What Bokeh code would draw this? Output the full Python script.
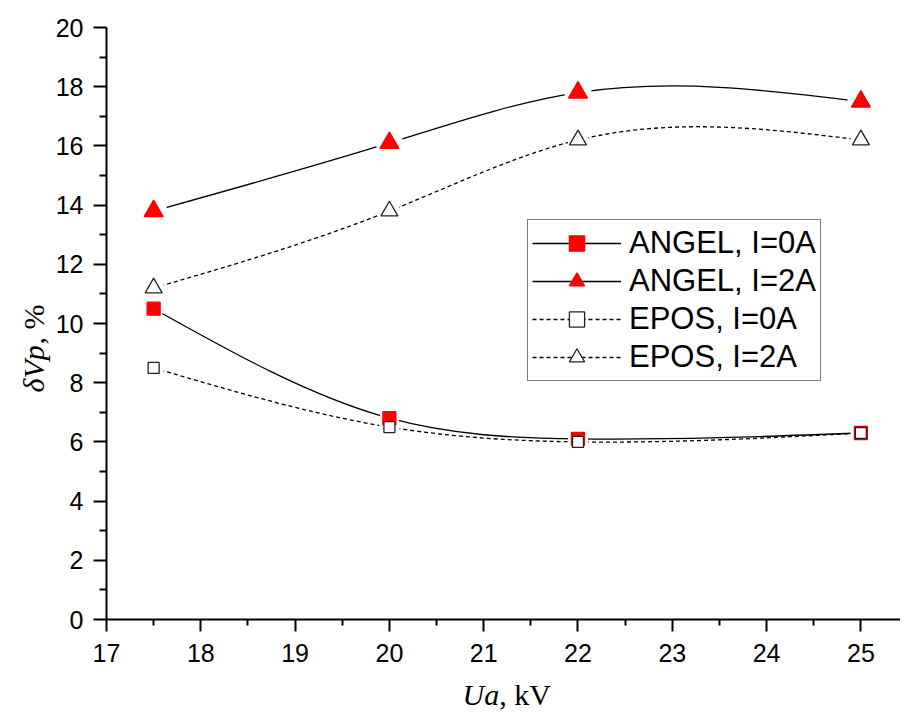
import numpy as np
from bokeh.plotting import figure
from bokeh.models import (Range1d, Label, Legend, LegendItem, FixedTicker,
                          ColumnDataSource, LinearAxis)
from bokeh.embed import file_html
from bokeh.resources import INLINE

# ---- data ----
x_kv = [17.5, 20, 22, 25]
angel_0 = [10.5, 6.8, 6.1, 6.3]
angel_2 = [13.8, 16.1, 17.8, 17.5]
epos_0 = [8.5, 6.5, 6.0, 6.3]
epos_2 = [11.2, 13.8, 16.2, 16.2]
names = ["ANGEL, I=0A", "ANGEL, I=2A", "EPOS, I=0A", "EPOS, I=2A"]
x_ticks = [17, 18, 19, 20, 21, 22, 23, 24, 25]
x_minor = [17.5, 18.5, 19.5, 20.5, 21.5, 22.5, 23.5, 24.5]
y_ticks = [0, 2, 4, 6, 8, 10, 12, 14, 16, 18, 20]
y_minor = [1, 3, 5, 7, 9, 11, 13, 15, 17, 19]
x_lo, x_hi = 17, 25.42
y_lo, y_hi = 0, 20


def spline_bezier(x, y):
    """Natural cubic spline through the points, expressed as bezier segments."""
    x = np.asarray(x, float)
    y = np.asarray(y, float)
    n = len(x)
    h = np.diff(x)
    A = np.zeros((n, n))
    b = np.zeros(n)
    A[0, 0] = 1
    A[-1, -1] = 1
    for i in range(1, n - 1):
        A[i, i - 1] = h[i - 1]
        A[i, i] = 2 * (h[i - 1] + h[i])
        A[i, i + 1] = h[i]
        b[i] = 6 * ((y[i + 1] - y[i]) / h[i] - (y[i] - y[i - 1]) / h[i - 1])
    M = np.linalg.solve(A, b)
    m = np.zeros(n)
    for i in range(n - 1):
        m[i] = (y[i + 1] - y[i]) / h[i] - h[i] * (2 * M[i] + M[i + 1]) / 6
    m[-1] = (y[-1] - y[-2]) / h[-1] + h[-1] * (M[-2] + 2 * M[-1]) / 6
    return ColumnDataSource(dict(
        x0=x[:-1], y0=y[:-1], x1=x[1:], y1=y[1:],
        cx0=x[:-1] + h / 3, cy0=y[:-1] + m[:-1] * h / 3,
        cx1=x[1:] - h / 3, cy1=y[1:] - m[1:] * h / 3,
    ))


# canvas geometry: the data box spans pixels 106..900 (x) and 27..619 (y)
W, H = 900, 712
left_px, right_px, top_px, bottom_px = 106, 900, 27, 619
xs = (x_hi - x_lo) / (right_px - left_px)
ys = (y_hi - y_lo) / (bottom_px - top_px)
x_range = Range1d(x_lo - left_px * xs, x_hi + (W - right_px) * xs)
y_range = Range1d(y_lo - (H - bottom_px) * ys, y_hi + top_px * ys)

p = figure(width=W, height=H, output_backend="svg", toolbar_location=None,
           x_range=x_range, y_range=y_range, x_axis_type=None, y_axis_type=None,
           min_border=0)
p.outline_line_color = None
p.xgrid.visible = False
p.ygrid.visible = False
p.background_fill_color = "white"
p.border_fill_color = "white"

xaxis = LinearAxis(fixed_location=y_lo, bounds=(x_lo, x_hi),
                   ticker=FixedTicker(ticks=x_ticks, minor_ticks=x_minor))
yaxis = LinearAxis(fixed_location=x_lo, bounds=(y_lo, y_hi),
                   ticker=FixedTicker(ticks=y_ticks, minor_ticks=y_minor))
for ax in (xaxis, yaxis):
    ax.axis_line_width = 2
    ax.axis_line_color = "black"
    ax.major_tick_line_width = 2
    ax.minor_tick_line_width = 2
    ax.major_tick_line_color = "black"
    ax.minor_tick_line_color = "black"
    ax.major_tick_in = 0
    ax.minor_tick_in = 0
    ax.major_label_text_font = "Liberation Sans"
    ax.major_label_text_font_size = "25px"
    ax.major_label_text_color = "black"
xaxis.major_label_standoff = 12
yaxis.major_label_standoff = 10
xaxis.major_tick_out = 12
xaxis.minor_tick_out = 6
yaxis.major_tick_out = 13
yaxis.minor_tick_out = 7
p.add_layout(xaxis, "below")
p.add_layout(yaxis, "left")

styles = [
    dict(y=angel_0, dash="solid", marker="square", size=13, halo=20, fill="#ff0000", line="#ff0000"),
    dict(y=angel_2, dash="solid", marker="triangle", size=19, halo=27, fill="#ff0000", line="#ff0000"),
    dict(y=epos_0, dash="4 3", marker="square", size=11, halo=21, fill="white", line="#222222"),
    dict(y=epos_2, dash="4 3", marker="triangle", size=17, halo=21, fill="white", line="#222222"),
]

# curves first, then white gaps round the points, then the points
line_rs = []
for st in styles:
    src = spline_bezier(x_kv, st["y"])
    line_rs.append(p.bezier(x0="x0", y0="y0", x1="x1", y1="y1", cx0="cx0", cy0="cy0",
                            cx1="cx1", cy1="cy1", source=src, line_color="black",
                            line_width=1.3, line_dash=st["dash"]))
for st in styles:
    p.scatter(x_kv, st["y"], marker="circle", size=st["halo"],
              fill_color="white", line_color=None)
items = []
for name, st, lr in zip(names, styles, line_rs):
    sr = p.scatter(x_kv, st["y"], marker=st["marker"], size=st["size"],
                   fill_color=st["fill"], line_color=st["line"], line_width=1.3)
    items.append(LegendItem(label=name, renderers=[lr, sr]))

legend = Legend(items=items, location=(527, H - 381))
legend.label_text_font = "Liberation Sans"
legend.label_text_font_size = "31px"
legend.label_text_color = "black"
legend.glyph_width = 89
legend.glyph_height = 38
legend.label_height = 38
legend.label_standoff = 8
legend.spacing = 0
legend.padding = 4
legend.margin = 0
legend.border_line_color = "black"
legend.border_line_width = 1
legend.background_fill_color = "white"
legend.background_fill_alpha = 1
p.add_layout(legend, "center")

lab_font = "Liberation Serif"
fs = 30
base_y = H - 694
p.add_layout(Label(x=462, y=base_y, x_units="screen", y_units="screen", text="Ua",
                   text_font=lab_font, text_font_style="italic", text_font_size=f"{fs}px",
                   text_baseline="alphabetic", text_color="black"))
p.add_layout(Label(x=462 + 1.222 * fs, y=base_y, x_units="screen", y_units="screen",
                   text=", kV", text_font=lab_font, text_font_size=f"{fs}px",
                   text_baseline="alphabetic", text_color="black"))
p.add_layout(Label(x=33, y=H - 392, x_units="screen", y_units="screen", text="δVp",
                   text_font=lab_font, text_font_style="italic", text_font_size=f"{fs}px",
                   angle=np.pi / 2, text_baseline="alphabetic", text_color="black"))
p.add_layout(Label(x=33, y=H - 392 + 1.6 * fs, x_units="screen", y_units="screen",
                   text=", %", text_font=lab_font, text_font_size=f"{fs}px",
                   angle=np.pi / 2, text_baseline="alphabetic", text_color="black"))

open("out.html", "w").write(file_html(p, INLINE))
